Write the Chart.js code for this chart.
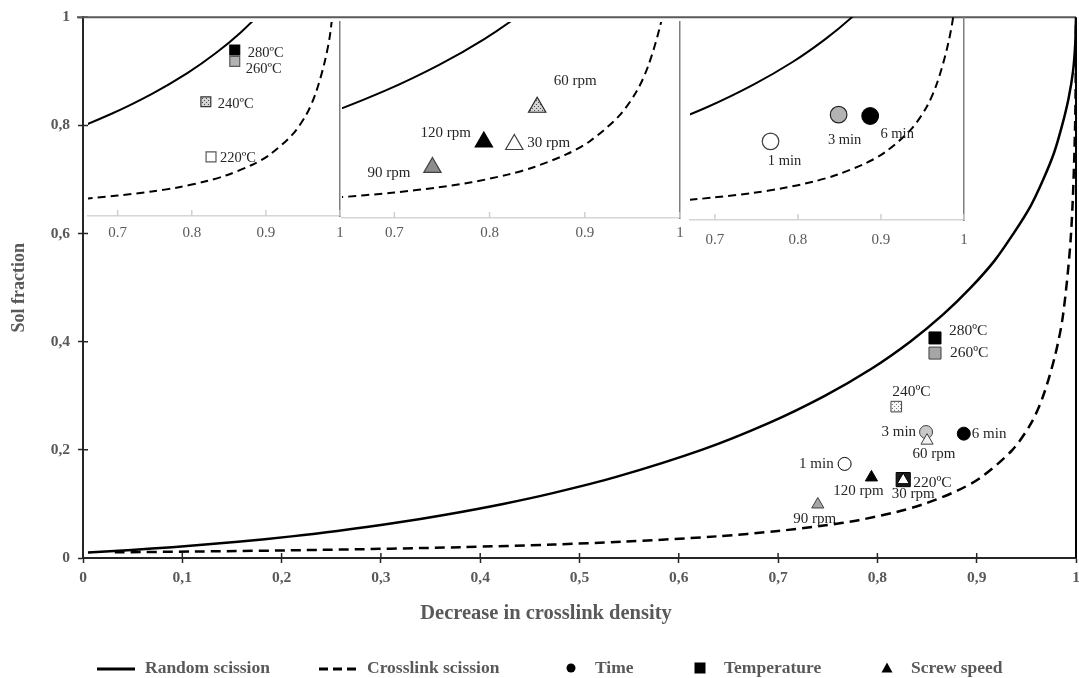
<!DOCTYPE html>
<html>
<head>
<meta charset="utf-8">
<script src="https://cdn.jsdelivr.net/npm/chart.js@4.4.1/dist/chart.umd.min.js"></script>
<style>
  html, body { margin: 0; padding: 0; background: #fff; }
  #wrap { position: relative; width: 1079px; height: 678px; }
  #wrap canvas { position: absolute; top: 0; }
</style>
</head>
<body>
<div id="wrap">
  <canvas id="main" width="1079" height="678" style="left:0"></canvas>
  <canvas id="inset1" width="262" height="245" style="left:84px"></canvas>
  <canvas id="inset2" width="352" height="245" style="left:336px"></canvas>
  <canvas id="inset3" width="288" height="245" style="left:684px"></canvas>
</div>
<script>
// Horikx curves (x = decrease in crosslink density, y = sol fraction)
const randomX = [0.005, 0.049, 0.090, 0.156, 0.210, 0.256, 0.315, 0.365, 0.423, 0.473, 0.537, 0.623, 0.691, 0.747, 0.794, 0.833, 0.866, 0.894, 0.918, 0.937, 0.954, 0.967, 0.978, 0.986, 0.9925, 0.997, 0.9992, 1.0];
const randomY = [0.010, 0.015, 0.020, 0.030, 0.040, 0.050, 0.065, 0.080, 0.100, 0.120, 0.150, 0.200, 0.250, 0.300, 0.350, 0.400, 0.450, 0.500, 0.550, 0.600, 0.650, 0.700, 0.750, 0.800, 0.850, 0.900, 0.950, 1.0];
const crossX = [0.032, 0.114, 0.240, 0.380, 0.474, 0.543, 0.638, 0.700, 0.746, 0.781, 0.819, 0.847, 0.881, 0.905, 0.936, 0.955, 0.967, 0.979, 0.987, 0.995, 0.9991, 1.0];
const crossY = [0.0105, 0.012, 0.015, 0.020, 0.025, 0.030, 0.040, 0.050, 0.060, 0.070, 0.085, 0.100, 0.125, 0.150, 0.200, 0.250, 0.300, 0.375, 0.450, 0.600, 0.800, 1.0];

// measured samples
const timeLabels = ['1 min', '3 min', '6 min'];
const timeX = [0.767, 0.849, 0.887];
const timeY = [0.174, 0.233, 0.230];

const tempLabels = ['220ºC', '240ºC', '260ºC', '280ºC'];
const tempX = [0.826, 0.819, 0.858, 0.858];
const tempY = [0.145, 0.280, 0.379, 0.407];

const speedLabels = ['30 rpm', '60 rpm', '90 rpm', '120 rpm'];
const speedX = [0.826, 0.850, 0.740, 0.794];
const speedY = [0.144, 0.217, 0.099, 0.149];

// axes
const mainXTicks = [0, 0.1, 0.2, 0.3, 0.4, 0.5, 0.6, 0.7, 0.8, 0.9, 1];
const mainYTicks = [0, 0.2, 0.4, 0.6, 0.8, 1];
const insetXTicks = [0.7, 0.8, 0.9, 1];
const xTitle = 'Decrease in crosslink density';
const yTitle = 'Sol fraction';
const legendLabels = ['Random scission', 'Crosslink scission', 'Time', 'Temperature', 'Screw speed'];

const SERIF = "'Liberation Serif', 'Times New Roman', serif";
const GREY = '#595959';

const pts = (xs, ys) => xs.map((x, i) => ({ x, y: ys[i] }));
const fixTicks = list => scale => { scale.ticks = list.map(v => ({ value: v })); };

// dotted fills used for a few markers
function dots(bg, fg) {
  const c = document.createElement('canvas');
  c.width = 4; c.height = 4;
  const g = c.getContext('2d');
  g.fillStyle = bg; g.fillRect(0, 0, 4, 4);
  g.fillStyle = fg; g.fillRect(0, 0, 1, 1); g.fillRect(2, 2, 1, 1);
  return g.createPattern(c, 'repeat');
}
const dotsLight = dots('#f6f6f6', '#7a7a7a');
const dotsDark = dots('#d4d4d4', '#4a4a4a');

// text next to each marker
const pointTags = {
  id: 'pointTags',
  afterDatasetsDraw(chart) {
    const ctx = chart.ctx;
    chart.data.datasets.forEach((ds, i) => {
      if (!ds.tags) return;
      const meta = chart.getDatasetMeta(i);
      ctx.save();
      ctx.font = ds.tagFont;
      ctx.fillStyle = '#262626';
      ctx.textBaseline = 'middle';
      meta.data.forEach((el, j) => {
        const [dx, dy, align] = ds.tagPos[j];
        ctx.textAlign = align;
        ctx.fillText(ds.tags[j], el.x + dx, el.y + dy);
      });
      ctx.restore();
    });
  }
};

// box lines and tick stubs drawn into the plot area
const frame = {
  id: 'frame',
  afterDraw(chart, args, opts) {
    const { ctx, chartArea: a, scales } = chart;
    ctx.save();
    ctx.lineWidth = 1.5;
    ctx.strokeStyle = opts.tickColor;
    ctx.beginPath();
    scales.x.ticks.forEach(t => {
      const px = scales.x.getPixelForValue(t.value);
      ctx.moveTo(px, a.bottom);
      ctx.lineTo(px, a.bottom - opts.inner);
    });
    if (opts.yTicks) {
      scales.y.ticks.forEach(t => {
        const py = scales.y.getPixelForValue(t.value);
        ctx.moveTo(a.left, py);
        ctx.lineTo(a.left + opts.inner, py);
      });
    }
    ctx.stroke();
    if (opts.box) {
      ctx.lineWidth = 2;
      ctx.strokeStyle = GREY;
      ctx.beginPath();
      ctx.moveTo(a.left - 6, a.top); ctx.lineTo(a.right, a.top);
      ctx.stroke();
      ctx.strokeStyle = '#000';
      ctx.beginPath();
      ctx.moveTo(a.right, a.top); ctx.lineTo(a.right, a.bottom);
      ctx.stroke();
    }
    ctx.restore();
  }
};

// x title (sits left of centre in the original) and the legend row
const legendLayout = [
  { kind: 'line', mx: 97, tx: 145 },
  { kind: 'dash', mx: 319, tx: 367 },
  { kind: 'circle', mx: 571, tx: 595 },
  { kind: 'rect', mx: 700, tx: 724 },
  { kind: 'triangle', mx: 887, tx: 911 }
];
const sketchLegend = {
  id: 'sketchLegend',
  afterDraw(chart) {
    const ctx = chart.ctx;
    const y = 668;
    ctx.save();
    ctx.fillStyle = GREY;
    ctx.font = 'bold 20.5px ' + SERIF;
    ctx.textAlign = 'center';
    ctx.textBaseline = 'middle';
    ctx.fillText(xTitle, 546, 614);

    legendLabels.forEach((text, i) => {
      const it = legendLayout[i];
      ctx.fillStyle = '#000';
      ctx.strokeStyle = '#000';
      ctx.beginPath();
      if (it.kind === 'line' || it.kind === 'dash') {
        ctx.lineWidth = 3;
        ctx.setLineDash(it.kind === 'dash' ? [9, 5] : []);
        ctx.moveTo(it.mx, y + 1);
        ctx.lineTo(it.mx + 38, y + 1);
        ctx.stroke();
        ctx.setLineDash([]);
      } else if (it.kind === 'circle') {
        ctx.arc(it.mx, y, 4.5, 0, Math.PI * 2);
        ctx.fill();
      } else if (it.kind === 'rect') {
        ctx.rect(it.mx - 5.5, y - 5.5, 11, 11);
        ctx.fill();
      } else {
        ctx.moveTo(it.mx, y - 5.5);
        ctx.lineTo(it.mx + 5.5, y + 4.5);
        ctx.lineTo(it.mx - 5.5, y + 4.5);
        ctx.closePath();
        ctx.fill();
      }
      ctx.fillStyle = GREY;
      ctx.font = 'bold 17.5px ' + SERIF;
      ctx.textAlign = 'left';
      ctx.textBaseline = 'middle';
      ctx.fillText(text, it.tx, y);
    });
    ctx.restore();
  }
};

const commaFmt = v => String(+Number(v).toFixed(1)).replace('.', ',');
const dotFmt = v => String(+Number(v).toFixed(1));
const noSidePad = s => { s.paddingLeft = 0; s.paddingRight = 0; };

// main chart
new Chart(document.getElementById('main'), {
  type: 'scatter',
  data: {
    datasets: [
      {
        label: 'Screw speed', data: pts(speedX, speedY), order: 0,
        pointStyle: 'triangle', pointRadius: 7, pointBorderWidth: 1,
        pointBackgroundColor: ['#ffffff', '#f2f2f2', '#a6a6a6', '#000000'],
        pointBorderColor: ['#000', '#404040', '#404040', '#000'],
        tags: speedLabels, tagFont: '15px ' + SERIF,
        tagPos: [[10, 14, 'center'], [7, 13, 'center'], [-3, 15, 'center'], [-13, 14, 'center']]
      },
      {
        label: 'Time', data: pts(timeX, timeY), order: 1,
        pointStyle: 'circle', pointRadius: 6.5, pointBorderWidth: 1,
        pointBackgroundColor: ['#ffffff', '#c8c8c8', '#000000'],
        pointBorderColor: ['#000', '#404040', '#000'],
        tags: timeLabels, tagFont: '15px ' + SERIF,
        tagPos: [[-11, 0, 'right'], [-10, 0, 'right'], [8, 0, 'left']]
      },
      {
        label: 'Temperature', data: pts(tempX, tempY), order: 2,
        pointStyle: 'rect', pointRadius: [10, 7.5, 8.5, 8.5], pointBorderWidth: 1,
        pointBackgroundColor: ['#1a1a1a', dotsLight, '#a6a6a6', '#000000'],
        pointBorderColor: ['#000', '#404040', '#404040', '#000'],
        tags: tempLabels, tagFont: '15.5px ' + SERIF,
        tagPos: [[10, 3, 'left'], [-4, -15, 'left'], [15, 0, 'left'], [14, -7, 'left']]
      },
      {
        label: 'Random scission', data: pts(randomX, randomY), order: 3,
        showLine: true, pointRadius: 0, borderColor: '#000', borderWidth: 2.5, tension: 0.3
      },
      {
        label: 'Crosslink scission', data: pts(crossX, crossY), order: 4,
        showLine: true, pointRadius: 0, borderColor: '#000', borderWidth: 2.5, tension: 0.3,
        borderDash: [10, 6]
      }
    ]
  },
  options: {
    responsive: false,
    animation: false,
    events: [],
    layout: { autoPadding: false, padding: { top: 15, right: 3, left: 0, bottom: 40 } },
    plugins: {
      legend: { display: false },
      tooltip: { enabled: false },
      frame: { tickColor: '#262626', inner: 5, yTicks: true, box: true }
    },
    scales: {
      x: {
        type: 'linear', min: 0, max: 1,
        afterBuildTicks: fixTicks(mainXTicks),
        afterFit: s => { s.height = 80; noSidePad(s); },
        ticks: { autoSkip: false, maxRotation: 0, callback: commaFmt, color: GREY, padding: 6,
                 font: { family: SERIF, size: 15.5, weight: 'bold' } },
        grid: { drawOnChartArea: false, tickLength: 5, tickColor: '#262626', tickWidth: 1.5 },
        border: { color: '#262626', width: 2 }
      },
      y: {
        type: 'linear', min: 0, max: 1,
        afterBuildTicks: fixTicks(mainYTicks),
        afterFit: s => { s.width = 83; },
        ticks: { autoSkip: false, callback: commaFmt, color: GREY, padding: 8,
                 font: { family: SERIF, size: 15.5, weight: 'bold' } },
        grid: { drawOnChartArea: false, tickLength: 5, tickColor: '#262626', tickWidth: 1.5 },
        border: { color: '#262626', width: 2 },
        title: { display: true, text: yTitle, color: GREY,
                 font: { family: SERIF, size: 18, weight: 'bold' }, padding: { top: 9, bottom: 0 } }
      }
    }
  },
  plugins: [pointTags, frame, sketchLegend]
});

// zoomed insets along the top
function inset(id, xMin, yMax, pad, xHeight, labelPad, marks) {
  new Chart(document.getElementById(id), {
    type: 'scatter',
    data: {
      datasets: [
        Object.assign({ order: 0, pointBorderWidth: 1.2, tagFont: '14.5px ' + SERIF }, marks),
        { data: pts(randomX, randomY), order: 1, showLine: true, pointRadius: 0,
          borderColor: '#000', borderWidth: 2, tension: 0.3 },
        { data: pts(crossX, crossY), order: 2, showLine: true, pointRadius: 0,
          borderColor: '#000', borderWidth: 2, tension: 0.3, borderDash: [8, 5] }
      ]
    },
    options: {
      responsive: false,
      animation: false,
      events: [],
      layout: { autoPadding: false, padding: pad },
      plugins: {
        legend: { display: false },
        tooltip: { enabled: false },
        frame: { tickColor: '#d0d0d0', inner: 6, yTicks: false, box: false }
      },
      scales: {
        x: {
          type: 'linear', min: xMin, max: 1,
          afterBuildTicks: fixTicks(insetXTicks),
          afterFit: s => { s.height = xHeight; noSidePad(s); },
          ticks: { autoSkip: false, maxRotation: 0, callback: dotFmt, color: GREY, padding: labelPad,
                   font: { family: SERIF, size: 15 } },
          grid: { drawOnChartArea: false, drawTicks: false },
          border: { color: '#d6d6d6', width: 1.5 }
        },
        y: {
          type: 'linear', position: 'right', min: 0, max: yMax,
          afterFit: s => { s.width = 0; },
          ticks: { display: false },
          grid: { drawOnChartArea: false, drawTicks: false },
          border: { color: '#7f7f7f', width: 1.5 }
        }
      }
    },
    plugins: [pointTags, frame]
  });
}

inset('inset1', 0.66, 0.4755, { left: 4, right: 6, top: 22, bottom: 0 }, 29, 8, {
  data: pts(tempX, tempY), pointStyle: 'rect', pointRadius: 7,
  pointBackgroundColor: ['#ffffff', dotsDark, '#b3b3b3', '#000000'],
  pointBorderColor: ['#595959', '#333', '#595959', '#000'],
  tags: tempLabels, tagPos: [[9, 1, 'left'], [12, 2, 'left'], [11, 8, 'left'], [13, 3, 'left']]
});

inset('inset2', 0.645, 0.384, { left: 6, right: 8, top: 22, bottom: 0 }, 27, 6, {
  data: pts(speedX, speedY), pointStyle: 'triangle', pointRadius: 10,
  pointBackgroundColor: ['#ffffff', dotsDark, '#8c8c8c', '#000000'],
  pointBorderColor: ['#404040', '#262626', '#404040', '#000'],
  tagFont: '15px ' + SERIF,
  tags: speedLabels, tagPos: [[13, -1, 'left'], [38, -26, 'center'], [-22, 6, 'right'], [-13, -9, 'right']]
});

inset('inset3', 0.67, 0.449, { left: 6, right: 8, top: 17, bottom: 0 }, 25, 11, {
  data: pts(timeX, timeY), pointStyle: 'circle', pointRadius: 8.3,
  pointBackgroundColor: ['#ffffff', '#b3b3b3', '#000000'],
  pointBorderColor: ['#404040', '#262626', '#000'],
  tags: timeLabels, tagPos: [[14, 20, 'center'], [6, 26, 'center'], [27, 18, 'center']]
});
</script>
</body>
</html>
